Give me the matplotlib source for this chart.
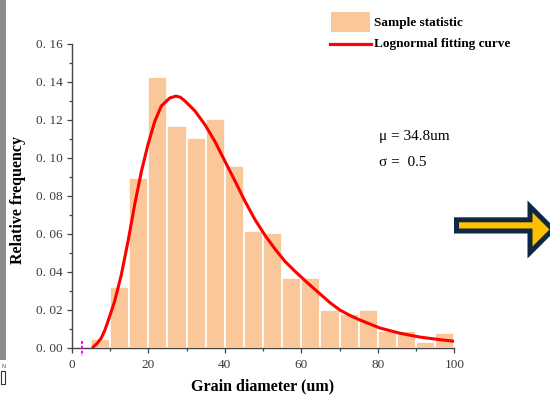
import matplotlib
matplotlib.use("Agg")
import matplotlib.pyplot as plt
from matplotlib.patches import Polygon, Rectangle
from matplotlib.lines import Line2D
import numpy as np

# ---- data ----
bin_left = [5, 10, 15, 20, 25, 30, 35, 40, 45, 50, 55, 60, 65, 70, 75, 80, 85, 90, 95]
bin_width = 5
rel_freq = [0.0044, 0.0321, 0.0892, 0.1426, 0.1168, 0.1102, 0.1204, 0.0958, 0.0614,
            0.0602, 0.0368, 0.0368, 0.0198, 0.0177, 0.0198, 0.0089, 0.0089, 0.0032, 0.0076]

curve_x = [5.5, 6.6, 7.7, 8.6, 9.46, 11.2, 12.95, 14.7, 16.44, 18.2, 19.9, 21.7, 23.4,
           25.6, 27.2, 28.4, 29.6, 32.2, 34.8, 37.4, 40.05, 42.7, 45.3, 47.9, 50.5,
           53.1, 55.7, 58.35, 61.8, 64.9, 67.5, 70.1, 72.7, 75.3, 80.5, 85.8, 91.0,
           96.3, 100.0]
curve_y = [0.0002, 0.0022, 0.0051, 0.0090, 0.0139, 0.0244, 0.0384, 0.0560, 0.0753,
           0.0928, 0.1068, 0.1192, 0.1272, 0.1314, 0.1324, 0.1318, 0.1298, 0.1246,
           0.1174, 0.1086, 0.0981, 0.0876, 0.0770, 0.0674, 0.0592, 0.0520, 0.0455,
           0.0402, 0.0338, 0.0283, 0.0237, 0.0198, 0.0170, 0.0146, 0.0104, 0.0076,
           0.0056, 0.0042, 0.0034]

xticks = [0, 20, 40, 60, 80, 100]
yticks = [0.00, 0.02, 0.04, 0.06, 0.08, 0.10, 0.12, 0.14, 0.16]
ytick_labels = ["0. 00", "0. 02", "0. 04", "0. 06", "0. 08", "0. 10", "0. 12", "0. 14", "0. 16"]

bar_color = "#F9C79A"
axis_color = "#444444"
serif = ["Liberation Serif", "DejaVu Serif"]

fig = plt.figure(figsize=(5.5, 3.97), dpi=100)
W, H = 550, 397
ax = fig.add_axes([71.8 / W, 49.3 / H, (454.3 - 71.8) / W, (353.3 - 49.3) / H])

ax.bar(bin_left, rel_freq, width=bin_width, align="edge", color=bar_color,
       edgecolor="white", linewidth=1.2, zorder=2)
ax.plot(curve_x, curve_y, color="#FF0000", lw=2.2, zorder=3, solid_capstyle="round",
        solid_joinstyle="round")

ax.set_xlim(0, 100)
ax.set_ylim(0, 0.16)
for s in ["top", "right"]:
    ax.spines[s].set_visible(False)
for s in ["left", "bottom"]:
    ax.spines[s].set_color(axis_color)
    ax.spines[s].set_linewidth(1.0)

ax.set_xticks(xticks)
ax.set_xticklabels([str(v) for v in xticks])
ax.set_xticks([10, 30, 50, 70, 90], minor=True)
ax.set_yticks(yticks)
ax.set_yticklabels(ytick_labels)
ax.set_yticks(np.arange(0.01, 0.16, 0.02), minor=True)
ax.tick_params(which="major", direction="out", length=3.8, width=0.9, color=axis_color,
               labelsize=9.5, labelcolor="#3a3a3a")
ax.tick_params(which="minor", direction="out", length=2.2, width=0.9, color=axis_color)
ax.tick_params(axis="y", pad=3)
ax.tick_params(axis="x", pad=4)
for lab in ax.get_xticklabels() + ax.get_yticklabels():
    lab.set_family(serif)

ax.set_xlabel("Grain diameter (um)", fontfamily=serif, fontweight="bold", fontsize=11.5,
              labelpad=6)
fig.text(18 / W, 1 - 200 / H, "Relative frequency", rotation=90, ha="center", va="center",
         fontfamily=serif, fontweight="bold", fontsize=11.5)

# magenta marker near origin
ax.plot([2.6, 2.6], [0.0037, -0.0042], color="#FF00FF", lw=1.4, ls=(0, (1.5, 1)),
        clip_on=False, zorder=4)

# legend (figure pixel coordinates)
def fx(px):
    return px / W

def fy(py):
    return 1 - py / H

fig.patches.append(Rectangle((fx(331), fy(32.3)), fx(370) - fx(331), fy(12.3) - fy(32.3),
                             transform=fig.transFigure, facecolor=bar_color,
                             edgecolor="none"))
fig.text(fx(374.5), fy(23), "Sample statistic", fontfamily=serif, fontweight="bold",
         fontsize=9.5, va="center", ha="left")
fig.lines.append(Line2D([fx(330), fx(371)], [fy(43.5), fy(43.5)], transform=fig.transFigure,
                        color="#FF0000", lw=2.3))
fig.text(fx(374.5), fy(44.5), "Lognormal fitting curve", fontfamily=serif, fontweight="bold",
         fontsize=9.5, va="center", ha="left")

fig.text(fx(379), fy(137), "μ = 34.8um", fontfamily=serif, fontsize=11, va="center",
         ha="left")
fig.text(fx(379), fy(162), "σ =  0.5", fontfamily=serif, fontsize=11, va="center",
         ha="left")

# left grey strip (edge of adjacent image)
fig.patches.append(Rectangle((0, fy(360)), fx(6), fy(0) - fy(360), transform=fig.transFigure,
                             facecolor="#8c8c8c", edgecolor="none"))
fig.text(fx(1), fy(366), "N", fontsize=4, color="#555555", va="center", ha="left")
fig.patches.append(Rectangle((fx(1), fy(384)), fx(4), fy(371) - fy(384),
                             transform=fig.transFigure, facecolor="none",
                             edgecolor="#333333", lw=0.8))

# big arrow on the right
arrow_px = [(456.5, 219.8), (530, 219.8), (530, 206.5), (553, 229.5), (530, 252.5),
            (530, 231), (456.5, 231)]
arrow = Polygon([(fx(x), fy(y)) for x, y in arrow_px], closed=True,
                transform=fig.transFigure, facecolor="#FFC000", edgecolor="#0E2841",
                lw=3.6, joinstyle="miter")
fig.patches.append(arrow)

fig.savefig("out.png", dpi=100)
